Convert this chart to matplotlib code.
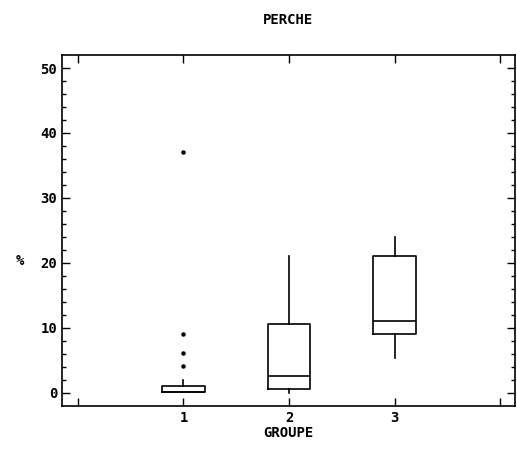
import matplotlib.pyplot as plt

# box statistics per group (percent)
groups = [1, 2, 3]
whislo = [0.15, 0.0, 5.3]
q1 = [0.15, 0.6, 9.1]
med = [0.15, 2.6, 11.1]
q3 = [1.1, 10.6, 21.0]
whishi = [2.0, 21.0, 24.0]
fliers = [[4.1, 6.1, 9.1, 37.1], [], []]

stats = []
for i in range(len(groups)):
    stats.append({
        "label": str(groups[i]),
        "whislo": whislo[i], "q1": q1[i], "med": med[i],
        "q3": q3[i], "whishi": whishi[i], "fliers": fliers[i],
    })

plt.rcParams["font.family"] = "DejaVu Sans Mono"
plt.rcParams["font.weight"] = "bold"

fig = plt.figure(figsize=(5.17, 4.51), dpi=100)
ax = fig.add_axes([0.120, 0.100, 0.876, 0.778])

ax.bxp(stats, positions=groups, widths=0.4, showcaps=False,
       boxprops=dict(color="black", linewidth=1.2),
       whiskerprops=dict(color="black", linewidth=1.2),
       medianprops=dict(color="black", linewidth=1.2),
       flierprops=dict(marker="o", markersize=2.2, markerfacecolor="black",
                       markeredgecolor="black", linestyle="none"))

ax.set_xlim(-0.15, 4.14)
ax.set_ylim(-2, 52)
ax.set_xticks([0, 1, 2, 3, 4])
ax.set_xticklabels(["", "1", "2", "3", ""])
ax.set_yticks([0, 10, 20, 30, 40, 50])
ax.set_yticks(range(0, 52, 2), minor=True)
ax.tick_params(axis="both", which="major", direction="in", length=6,
               top=True, right=True, labelsize=10, width=1)
ax.tick_params(axis="both", which="minor", direction="in", length=3,
               right=True, width=1)
ax.tick_params(axis="x", which="minor", bottom=False, top=False)
for s in ax.spines.values():
    s.set_linewidth(1.2)

ax.set_xlabel("GROUPE", fontsize=10, fontweight="bold", labelpad=1)
ax.set_ylabel("%", fontsize=10, fontweight="bold", rotation=0)
ax.yaxis.set_label_coords(-0.093, 0.393)
fig.text(0.557, 0.955, "PERCHE", ha="center", va="center",
         fontsize=10, fontweight="bold")

fig.savefig("out.png", dpi=100)
